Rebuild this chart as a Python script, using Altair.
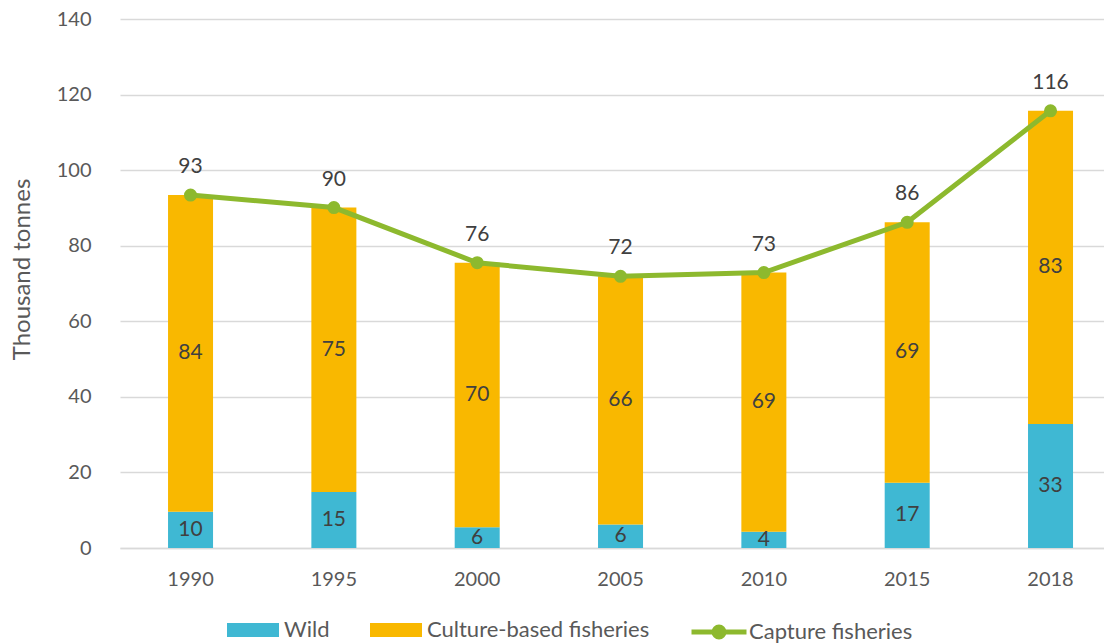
import altair as alt
import pandas as pd

years = ["1990", "1995", "2000", "2005", "2010", "2015", "2018"]
wild = [9.6, 14.8, 5.5, 6.2, 4.3, 17.3, 32.8]
culture = [83.8, 75.3, 70.0, 65.7, 68.6, 68.9, 82.9]
capture = [93.4, 90.1, 75.5, 71.9, 72.9, 86.2, 115.7]

FONT = "Lato"
C_WILD = "#3FB8D3"
C_CULT = "#F9B800"
C_LINE = "#8DB92E"

rows = []
for i, y in enumerate(years):
    rows.append({"year": y, "series": "Wild", "value": wild[i], "ord": 0})
    rows.append({"year": y, "series": "Culture-based fisheries", "value": culture[i], "ord": 1})
bars_df = pd.DataFrame(rows)
wide_df = pd.DataFrame({"year": years, "wild": wild, "culture": culture,
                        "capture": capture, "lname": ["Capture fisheries"] * len(years)})

xscale = alt.Scale(domain=years, paddingInner=0.686, paddingOuter=0.2756, align=0.608)
yscale = alt.Scale(domain=[0, 140], nice=False)

x_enc = alt.X("year:N", scale=xscale, sort=years,
              axis=alt.Axis(title=None, labelAngle=0, ticks=False, tickSize=0,
                            labelPadding=21, labelFontSize=20, labelColor="#595959",
                            labelFont=FONT, domain=True, domainColor="#D9D9D9", domainWidth=1.5,
                            grid=False))

bars = alt.Chart(bars_df).mark_bar().encode(
    x=x_enc,
    y=alt.Y("value:Q", stack="zero", scale=yscale,
            axis=alt.Axis(title="Thousand tonnes", values=[0, 20, 40, 60, 80, 100, 120, 140],
                          ticks=False, tickSize=0, domain=False, labelPadding=29,
                          labelFontSize=20, labelColor="#595959", labelFont=FONT,
                          gridColor="#D9D9D9", gridWidth=1.5,
                          titleFont=FONT, titleFontSize=24, titleColor="#595959",
                          titleFontWeight="normal", titleX=-98, titleY=250,
                          titleBaseline="middle", titleAngle=-90)),
    color=alt.Color("series:N",
                    scale=alt.Scale(domain=["Wild", "Culture-based fisheries"],
                                    range=[C_WILD, C_CULT]),
                    legend=alt.Legend(title=None, orient="none", direction="horizontal",
                                      legendX=107, legendY=585, padding=0,
                                      symbolType="M-1,-0.27L1,-0.27L1,0.27L-1,0.27Z",
                                      symbolSize=2704, symbolStrokeWidth=0,
                                      labelOffset=5, columnPadding=40, labelLimit=0,
                                      labelFont=FONT, labelFontSize=22, labelColor="#595959")),
    order=alt.Order("ord:Q", sort="ascending"),
)

x_plain = alt.X("year:N", scale=xscale, sort=years)

wild_text = alt.Chart(wide_df).transform_calculate(
    mid="datum.wild / 2"
).mark_text(font=FONT, fontSize=21, color="#404040", baseline="middle").encode(
    x=x_plain,
    y=alt.Y("mid:Q", scale=yscale),
    text=alt.Text("wild:Q", format=".0f"),
)

cult_text = alt.Chart(wide_df).transform_calculate(
    mid="datum.wild + datum.culture / 2"
).mark_text(font=FONT, fontSize=21, color="#404040", baseline="middle").encode(
    x=x_plain,
    y=alt.Y("mid:Q", scale=yscale),
    text=alt.Text("culture:Q", format=".0f"),
)

line = alt.Chart(wide_df).mark_line(strokeWidth=5).encode(
    x=x_plain,
    y=alt.Y("capture:Q", scale=yscale),
    stroke=alt.Stroke("lname:N", scale=alt.Scale(domain=["Capture fisheries"], range=[C_LINE]),
                      legend=alt.Legend(title=None, orient="none", legendX=569, legendY=583,
                                        padding=0, labelLimit=0,
                                        symbolType="M-1,0L1,0M-0.18,0A0.18,0.18,0,1,1,0.18,0A0.18,0.18,0,1,1,-0.18,0Z",
                                        symbolSize=3025, symbolStrokeWidth=5,
                                        symbolFillColor=C_LINE, symbolStrokeColor=C_LINE,
                                        labelOffset=0, labelFont=FONT, labelFontSize=22,
                                        labelColor="#595959")),
)

pts = alt.Chart(wide_df).mark_circle(size=170, opacity=1, color=C_LINE).encode(
    x=x_plain,
    y=alt.Y("capture:Q", scale=yscale),
)

cap_text = alt.Chart(wide_df).mark_text(font=FONT, fontSize=21, color="#404040",
                                        baseline="middle", dy=-28).encode(
    x=x_plain,
    y=alt.Y("capture:Q", scale=yscale),
    text=alt.Text("capture:Q", format=".0f"),
)

chart = alt.layer(bars, wild_text, cult_text, line, pts, cap_text).properties(
    width=984, height=529, autosize="none", background="white",
    padding={"left": 120, "top": 19, "right": 0, "bottom": 96},
).configure_view(stroke="transparent", strokeOpacity=0).configure_axisY(domain=False).configure_axisX(
    grid=False
)

chart.save("out.html", embed_options={"renderer": "svg", "actions": False})
